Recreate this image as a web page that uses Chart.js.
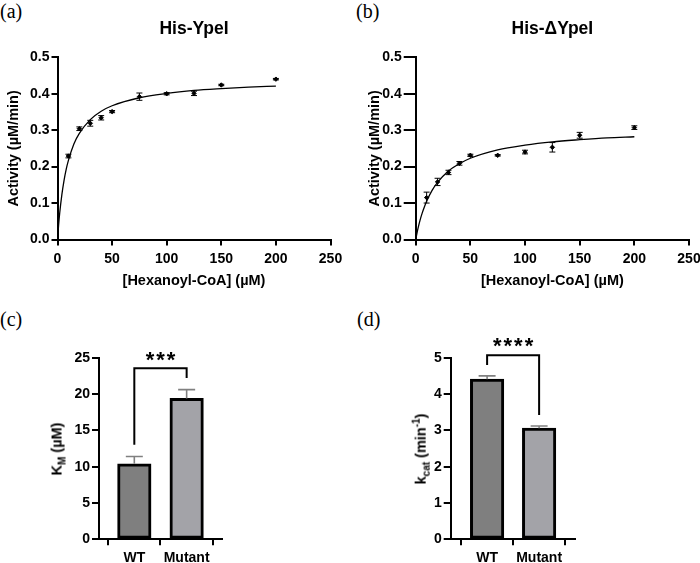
<!DOCTYPE html>
<html>
<head>
<meta charset="utf-8">
<script src="https://cdn.jsdelivr.net/npm/chart.js@4.4.0/dist/chart.umd.min.js"></script>
<style>
  body { margin: 0; width: 700px; height: 563px; overflow: hidden; background: #fff; }
  #fig { position: relative; width: 700px; height: 563px; overflow: hidden; }
  canvas { position: absolute; }
  .lab { position: absolute; font-family: "Liberation Serif", "Times New Roman", serif; font-size: 20px; line-height: 20px; color: #000; }
  .ytitle { position: absolute; font-family: "Liberation Sans", Arial, sans-serif; font-weight: bold; font-size: 14.5px;
            white-space: nowrap; transform: translate(-50%, -50%) rotate(-90deg); color: #000; }
  .ytitle sub, .ytitle sup { font-size: 10px; }
</style>
</head>
<body>
<div id="fig">
  <div class="lab" style="left:0px; top:1px;">(a)</div>
  <div class="lab" style="left:356px; top:1px;">(b)</div>
  <div class="lab" style="left:0px; top:309px;">(c)</div>
  <div class="lab" style="left:357px; top:309px;">(d)</div>

  <canvas id="panelA" style="left:0px; top:0px; width:350px; height:290px;"></canvas>
  <canvas id="panelB" style="left:350px; top:0px; width:370px; height:290px;"></canvas>
  <canvas id="panelC" style="left:0px; top:290px; width:350px; height:273px;"></canvas>
  <canvas id="panelD" style="left:350px; top:290px; width:350px; height:273px;"></canvas>

  <div class="ytitle" style="left:58px; top:449px;">K<sub>M</sub> (µM)</div>
  <div class="ytitle" style="left:421px; top:449px;">k<sub>cat</sub> (min<sup>-1</sup>)</div>
</div>

<script>
// ---- data ----
const substrate = [10, 20, 30, 40, 50, 75, 100, 125, 150, 200];
const wtActivity = [0.229, 0.304, 0.319, 0.334, 0.351, 0.392, 0.400, 0.401, 0.424, 0.440];
const wtActivityErr = [0.005, 0.005, 0.008, 0.006, 0.003, 0.010, 0.003, 0.006, 0.002, 0.002];
const mutActivity = [0.115, 0.158, 0.184, 0.209, 0.231, 0.231, 0.240, 0.253, 0.286, 0.307];
const mutActivityErr = [0.015, 0.010, 0.006, 0.005, 0.003, 0.002, 0.005, 0.013, 0.008, 0.005];

// fitted curves
const fitX = [0, 1, 2, 4, 6, 8, 10, 15, 20, 30, 40, 50, 75, 100, 125, 150, 175, 200];
const wtFit = [0, 0.039, 0.072, 0.123, 0.162, 0.193, 0.217, 0.262, 0.291, 0.329, 0.352, 0.367, 0.389, 0.401, 0.409, 0.414, 0.418, 0.421];
const mutFit = [0, 0.015, 0.029, 0.053, 0.073, 0.090, 0.105, 0.135, 0.157, 0.188, 0.208, 0.223, 0.246, 0.259, 0.268, 0.274, 0.279, 0.282];

const groups = ['WT', 'Mutant'];
const kmValues = [10.4, 19.4];
const kmErr = [1.0, 1.2];
const kcatValues = [4.41, 3.06];
const kcatErr = [0.09, 0.06];
// significance brackets: [left foot, top, right foot], star level
const kmBracket = [13.0, 23.55, 22.2];
const kmStarLevel = 25.4;
const kcatBracket = [4.8, 5.07, 3.42];
const kcatStarLevel = 5.48;

const FONT = '"Liberation Sans", Arial, sans-serif';
const tickFont = { family: FONT, size: 14, weight: 'bold' };
const titleFont = { family: FONT, size: 14.5, weight: 'bold' };

const errorBars = {
  id: 'errorBars',
  afterDatasetsDraw(chart, args, o) {
    if (!o.err) return;
    const ctx = chart.ctx, ys = chart.scales.y, xs = chart.scales.x;
    const ds = chart.data.datasets[0].data;
    ctx.save();
    ctx.strokeStyle = o.color;
    ctx.lineWidth = o.width;
    ds.forEach((p, i) => {
      const px = xs.getPixelForValue(p.x);
      const top = ys.getPixelForValue(p.y + o.err[i]);
      const bot = ys.getPixelForValue(o.upOnly ? p.y : p.y - o.err[i]);
      ctx.beginPath();
      ctx.moveTo(px, bot); ctx.lineTo(px, top);
      ctx.moveTo(px - o.cap / 2, top); ctx.lineTo(px + o.cap / 2, top);
      if (!o.upOnly) { ctx.moveTo(px - o.cap / 2, bot); ctx.lineTo(px + o.cap / 2, bot); }
      ctx.stroke();
    });
    ctx.restore();
  }
};

const sigBracket = {
  id: 'sigBracket',
  afterDraw(chart, args, o) {
    if (!o.levels) return;
    const ctx = chart.ctx, xs = chart.scales.x, ys = chart.scales.y;
    const x0 = xs.getPixelForValue(0), x1 = xs.getPixelForValue(1);
    ctx.save();
    ctx.strokeStyle = '#000';
    ctx.lineWidth = 2;
    ctx.beginPath();
    ctx.moveTo(x0, ys.getPixelForValue(o.levels[0]));
    ctx.lineTo(x0, ys.getPixelForValue(o.levels[1]));
    ctx.lineTo(x1, ys.getPixelForValue(o.levels[1]));
    ctx.lineTo(x1, ys.getPixelForValue(o.levels[2]));
    ctx.stroke();
    ctx.fillStyle = '#000';
    ctx.font = 'bold 22px ' + FONT;
    ctx.letterSpacing = '2px';
    ctx.textAlign = 'center';
    ctx.textBaseline = 'alphabetic';
    ctx.fillText(o.stars, (x0 + x1) / 2 + 1, ys.getPixelForValue(o.starLevel) + 12.5);
    ctx.restore();
  }
};

function axisCommon(tickLen, pad) {
  return {
    ticks: { color: '#000', font: tickFont, padding: pad },
    grid: { display: true, drawOnChartArea: false, drawTicks: true, tickLength: tickLen, color: '#000', lineWidth: 2 },
    border: { display: true, color: '#000', width: 2 }
  };
}

function kineticChart(id, title, act, err, fit, yW, yTick, yTitlePad, padRight) {
  const xAxis = axisCommon(6, 5);
  const yAxis = axisCommon(yTick, 2);
  return new Chart(document.getElementById(id), {
    type: 'scatter',
    data: {
      datasets: [
        { data: substrate.map((x, i) => ({ x: x, y: act[i] })), backgroundColor: '#000', borderColor: '#000',
          pointRadius: 2.2, pointHoverRadius: 2.2, pointStyle: 'rectRot' },
        { data: fitX.map((x, i) => ({ x: x, y: fit[i] })), showLine: true, borderColor: '#000', borderWidth: 1.3,
          pointRadius: 0, cubicInterpolationMode: 'monotone', fill: false }
      ]
    },
    options: {
      responsive: false, animation: false, devicePixelRatio: 1,
      layout: { padding: { top: 0, right: padRight, bottom: 0, left: 0 } },
      plugins: {
        legend: { display: false }, tooltip: { enabled: false },
        title: { display: true, text: title, fullSize: false, color: '#000',
                 font: { family: FONT, size: 17.5, weight: 'bold' }, padding: { top: 18.5, bottom: 17.8 } },
        errorBars: { err: err, color: '#000', width: 1, cap: 6 }
      },
      scales: {
        x: Object.assign(xAxis, {
          type: 'linear', min: 0, max: 250,
          ticks: Object.assign(xAxis.ticks, { stepSize: 50 }),
          title: { display: true, text: '[Hexanoyl-CoA] (µM)', color: '#000', font: titleFont, padding: { top: 0, bottom: 0.3 } },
          afterFit(s) { s.height = 50.5; }
        }),
        y: Object.assign(yAxis, {
          min: 0, max: 0.5,
          ticks: Object.assign(yAxis.ticks, { stepSize: 0.1, callback: v => v.toFixed(1) }),
          title: { display: true, text: 'Activity (µM/min)', color: '#000', font: titleFont, padding: { top: yTitlePad, bottom: 0 } },
          afterFit(s) { s.width = yW; }
        })
      }
    },
    plugins: [errorBars]
  });
}

function barChart(id, values, err, yMax, yStep, yW, padRight, xMin, xMax, bracket, starLevel, stars) {
  const xAxis = axisCommon(6, 4);
  const yAxis = axisCommon(7, 2);
  return new Chart(document.getElementById(id), {
    type: 'bar',
    data: {
      datasets: [{
        data: values.map((v, i) => ({ x: i, y: v })),
        backgroundColor: ['#7f7f7f', '#a3a3a8'],
        borderColor: '#000', borderWidth: 3, borderSkipped: false, barThickness: 33.5
      }]
    },
    options: {
      responsive: false, animation: false, devicePixelRatio: 1,
      layout: { padding: { top: 67.7, right: padRight, bottom: 0, left: 0 } },
      plugins: {
        legend: { display: false }, tooltip: { enabled: false },
        errorBars: { err: err, color: '#808080', width: 1.6, cap: 17, upOnly: true },
        sigBracket: { levels: bracket, starLevel: starLevel, stars: stars }
      },
      scales: {
        x: Object.assign(xAxis, {
          type: 'linear', min: xMin, max: xMax, offset: false,
          afterBuildTicks(s) { s.ticks = groups.map((g, i) => ({ value: i })); },
          ticks: Object.assign(xAxis.ticks, { font: { family: FONT, size: 14, weight: 'bold' }, callback: v => groups[v] }),
          afterFit(s) { s.height = 23.7; }
        }),
        y: Object.assign(yAxis, {
          min: 0, max: yMax,
          ticks: Object.assign(yAxis.ticks, { stepSize: yStep }),
          afterFit(s) { s.width = yW; }
        })
      }
    },
    plugins: [errorBars, sigBracket]
  });
}

kineticChart('panelA', 'His-YpeI', wtActivity, wtActivityErr, wtFit, 57.5, 6, 4.8, 19.5);
kineticChart('panelB', 'His-\u0394YpeI', mutActivity, mutActivityErr, mutFit, 65.7, 12, 16.3, 31);
barChart('panelC', kmValues, kmErr, 25, 5, 99, 128.3, -0.675, 1.67, kmBracket, kmStarLevel, '***');
barChart('panelD', kcatValues, kcatErr, 5, 1, 100.7, 125, -0.7, 1.69, kcatBracket, kcatStarLevel, '****');
</script>
</body>
</html>
